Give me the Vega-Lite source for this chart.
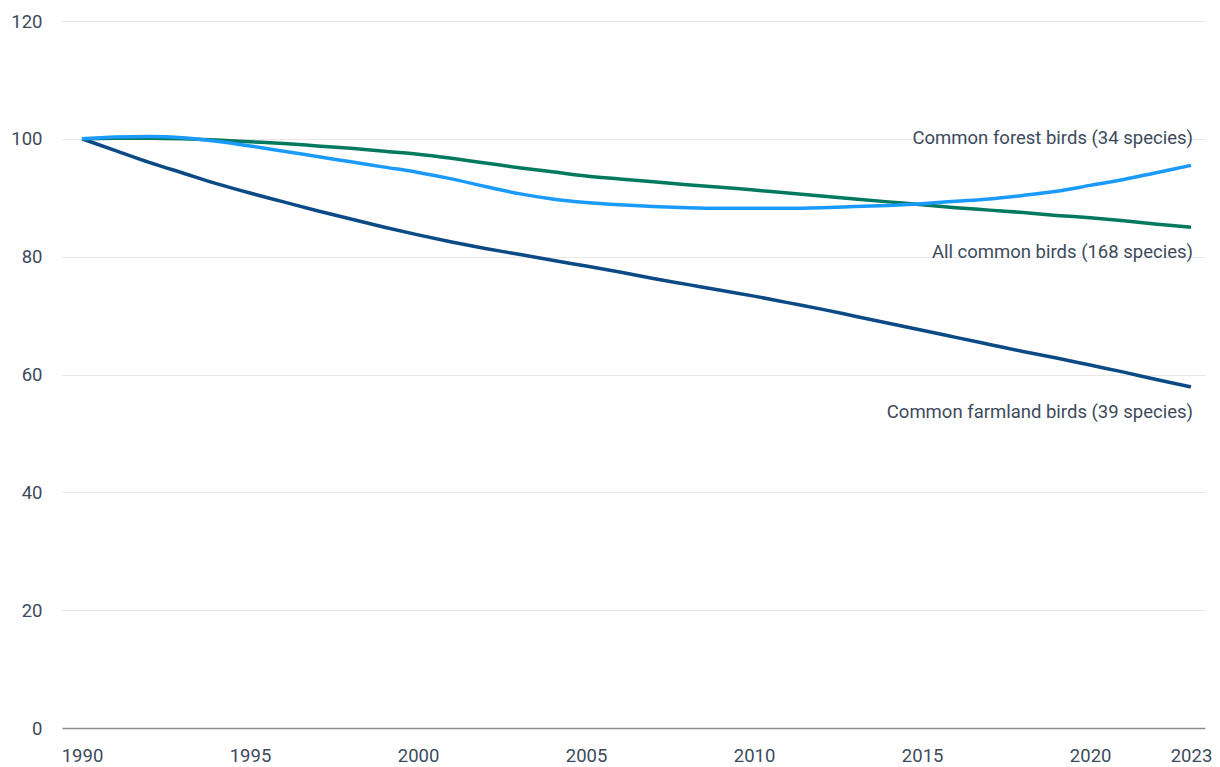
{
  "$schema": "https://vega.github.io/schema/vega-lite/v6.json",
  "autosize": {"type": "none"},
  "width": 1143,
  "height": 707,
  "padding": {"left": 62, "top": 21, "right": 15, "bottom": 39},
  "background": "white",
  "config": {
    "view": {"stroke": null},
    "font": "Roboto",
    "axis": {"labelFont": "Roboto", "labelColor": "#3d4a5c", "labelFontSize": 18.5}
  },
  "data": {
    "values": [
      {"year": 1990, "series": "farmland", "value": 100},
      {"year": 1991, "series": "farmland", "value": 98.0},
      {"year": 1992, "series": "farmland", "value": 96.0},
      {"year": 1993, "series": "farmland", "value": 94.2},
      {"year": 1994, "series": "farmland", "value": 92.4},
      {"year": 1995, "series": "farmland", "value": 90.8},
      {"year": 1996, "series": "farmland", "value": 89.3},
      {"year": 1997, "series": "farmland", "value": 87.8},
      {"year": 1998, "series": "farmland", "value": 86.4},
      {"year": 1999, "series": "farmland", "value": 85.0},
      {"year": 2000, "series": "farmland", "value": 83.7},
      {"year": 2001, "series": "farmland", "value": 82.5},
      {"year": 2002, "series": "farmland", "value": 81.4},
      {"year": 2003, "series": "farmland", "value": 80.4},
      {"year": 2004, "series": "farmland", "value": 79.4},
      {"year": 2005, "series": "farmland", "value": 78.4},
      {"year": 2006, "series": "farmland", "value": 77.4},
      {"year": 2007, "series": "farmland", "value": 76.3},
      {"year": 2008, "series": "farmland", "value": 75.3},
      {"year": 2009, "series": "farmland", "value": 74.3},
      {"year": 2010, "series": "farmland", "value": 73.3},
      {"year": 2011, "series": "farmland", "value": 72.2},
      {"year": 2012, "series": "farmland", "value": 71.1},
      {"year": 2013, "series": "farmland", "value": 69.9},
      {"year": 2014, "series": "farmland", "value": 68.7},
      {"year": 2015, "series": "farmland", "value": 67.5},
      {"year": 2016, "series": "farmland", "value": 66.3},
      {"year": 2017, "series": "farmland", "value": 65.1},
      {"year": 2018, "series": "farmland", "value": 63.9},
      {"year": 2019, "series": "farmland", "value": 62.8},
      {"year": 2020, "series": "farmland", "value": 61.6},
      {"year": 2021, "series": "farmland", "value": 60.4},
      {"year": 2022, "series": "farmland", "value": 59.1},
      {"year": 2023, "series": "farmland", "value": 57.9},
      {"year": 1990, "series": "all", "value": 100},
      {"year": 1991, "series": "all", "value": 100.1},
      {"year": 1992, "series": "all", "value": 100.1},
      {"year": 1993, "series": "all", "value": 100.0},
      {"year": 1994, "series": "all", "value": 99.8},
      {"year": 1995, "series": "all", "value": 99.5},
      {"year": 1996, "series": "all", "value": 99.2},
      {"year": 1997, "series": "all", "value": 98.8},
      {"year": 1998, "series": "all", "value": 98.4},
      {"year": 1999, "series": "all", "value": 97.9},
      {"year": 2000, "series": "all", "value": 97.4},
      {"year": 2001, "series": "all", "value": 96.7},
      {"year": 2002, "series": "all", "value": 95.9},
      {"year": 2003, "series": "all", "value": 95.1},
      {"year": 2004, "series": "all", "value": 94.4},
      {"year": 2005, "series": "all", "value": 93.7},
      {"year": 2006, "series": "all", "value": 93.2},
      {"year": 2007, "series": "all", "value": 92.7},
      {"year": 2008, "series": "all", "value": 92.2},
      {"year": 2009, "series": "all", "value": 91.8},
      {"year": 2010, "series": "all", "value": 91.3},
      {"year": 2011, "series": "all", "value": 90.8},
      {"year": 2012, "series": "all", "value": 90.3},
      {"year": 2013, "series": "all", "value": 89.8},
      {"year": 2014, "series": "all", "value": 89.3},
      {"year": 2015, "series": "all", "value": 88.8},
      {"year": 2016, "series": "all", "value": 88.3},
      {"year": 2017, "series": "all", "value": 87.9},
      {"year": 2018, "series": "all", "value": 87.5},
      {"year": 2019, "series": "all", "value": 87.0},
      {"year": 2020, "series": "all", "value": 86.6},
      {"year": 2021, "series": "all", "value": 86.1},
      {"year": 2022, "series": "all", "value": 85.5},
      {"year": 2023, "series": "all", "value": 85.0},
      {"year": 1990, "series": "forest", "value": 100},
      {"year": 1991, "series": "forest", "value": 100.3},
      {"year": 1992, "series": "forest", "value": 100.4},
      {"year": 1993, "series": "forest", "value": 100.2},
      {"year": 1994, "series": "forest", "value": 99.6},
      {"year": 1995, "series": "forest", "value": 98.8},
      {"year": 1996, "series": "forest", "value": 97.9},
      {"year": 1997, "series": "forest", "value": 97.0},
      {"year": 1998, "series": "forest", "value": 96.1},
      {"year": 1999, "series": "forest", "value": 95.2},
      {"year": 2000, "series": "forest", "value": 94.3},
      {"year": 2001, "series": "forest", "value": 93.2},
      {"year": 2002, "series": "forest", "value": 91.9},
      {"year": 2003, "series": "forest", "value": 90.7},
      {"year": 2004, "series": "forest", "value": 89.8},
      {"year": 2005, "series": "forest", "value": 89.2},
      {"year": 2006, "series": "forest", "value": 88.8},
      {"year": 2007, "series": "forest", "value": 88.5},
      {"year": 2008, "series": "forest", "value": 88.3},
      {"year": 2009, "series": "forest", "value": 88.2},
      {"year": 2010, "series": "forest", "value": 88.2},
      {"year": 2011, "series": "forest", "value": 88.2},
      {"year": 2012, "series": "forest", "value": 88.3},
      {"year": 2013, "series": "forest", "value": 88.5},
      {"year": 2014, "series": "forest", "value": 88.7},
      {"year": 2015, "series": "forest", "value": 89.0},
      {"year": 2016, "series": "forest", "value": 89.4},
      {"year": 2017, "series": "forest", "value": 89.8},
      {"year": 2018, "series": "forest", "value": 90.4},
      {"year": 2019, "series": "forest", "value": 91.1},
      {"year": 2020, "series": "forest", "value": 92.1},
      {"year": 2021, "series": "forest", "value": 93.1},
      {"year": 2022, "series": "forest", "value": 94.3},
      {"year": 2023, "series": "forest", "value": 95.5}
    ]
  },
  "encoding": {
    "x": {
      "field": "year", "type": "quantitative",
      "scale": {"domain": [1989.405, 2023.417], "nice": false, "zero": false},
      "axis": {
        "title": null, "values": [1990, 1995, 2000, 2005, 2010, 2015, 2020, 2023],
        "format": "d", "grid": false, "ticks": false, "domain": true,
        "domainColor": "#8c8c8c", "domainWidth": 1.5, "labelPadding": 18,
        "labelFlush": false
      }
    },
    "y": {
      "field": "value", "type": "quantitative",
      "scale": {"domain": [0, 120], "nice": false},
      "axis": {
        "title": null, "values": [0, 20, 40, 60, 80, 100, 120],
        "grid": true, "gridColor": "#e8e8e8", "gridWidth": 1,
        "ticks": false, "domain": false, "labelPadding": 20
      }
    }
  },
  "layer": [
    {
      "mark": {"type": "line", "interpolate": "monotone", "strokeWidth": 3.5},
      "encoding": {
        "color": {
          "field": "series", "type": "nominal", "legend": null,
          "scale": {"domain": ["all", "forest", "farmland"], "range": ["#00795f", "#1a9bfc", "#0b4a85"]}
        },
        "order": {"field": "year"}
      }
    },
    {
      "transform": [{"filter": "datum.year == 2023 && datum.series == 'forest'"}],
      "mark": {"type": "text", "align": "right", "baseline": "middle", "dx": 2, "dy": -27, "fontSize": 18.5, "font": "Roboto", "color": "#3d4a5c"},
      "encoding": {"text": {"value": "Common forest birds (34 species)"}}
    },
    {
      "transform": [{"filter": "datum.year == 2023 && datum.series == 'all'"}],
      "mark": {"type": "text", "align": "right", "baseline": "middle", "dx": 2, "dy": 25, "fontSize": 18.5, "font": "Roboto", "color": "#3d4a5c"},
      "encoding": {"text": {"value": "All common birds (168 species)"}}
    },
    {
      "transform": [{"filter": "datum.year == 2023 && datum.series == 'farmland'"}],
      "mark": {"type": "text", "align": "right", "baseline": "middle", "dx": 2, "dy": 25, "fontSize": 18.5, "font": "Roboto", "color": "#3d4a5c"},
      "encoding": {"text": {"value": "Common farmland birds (39 species)"}}
    }
  ]
}
